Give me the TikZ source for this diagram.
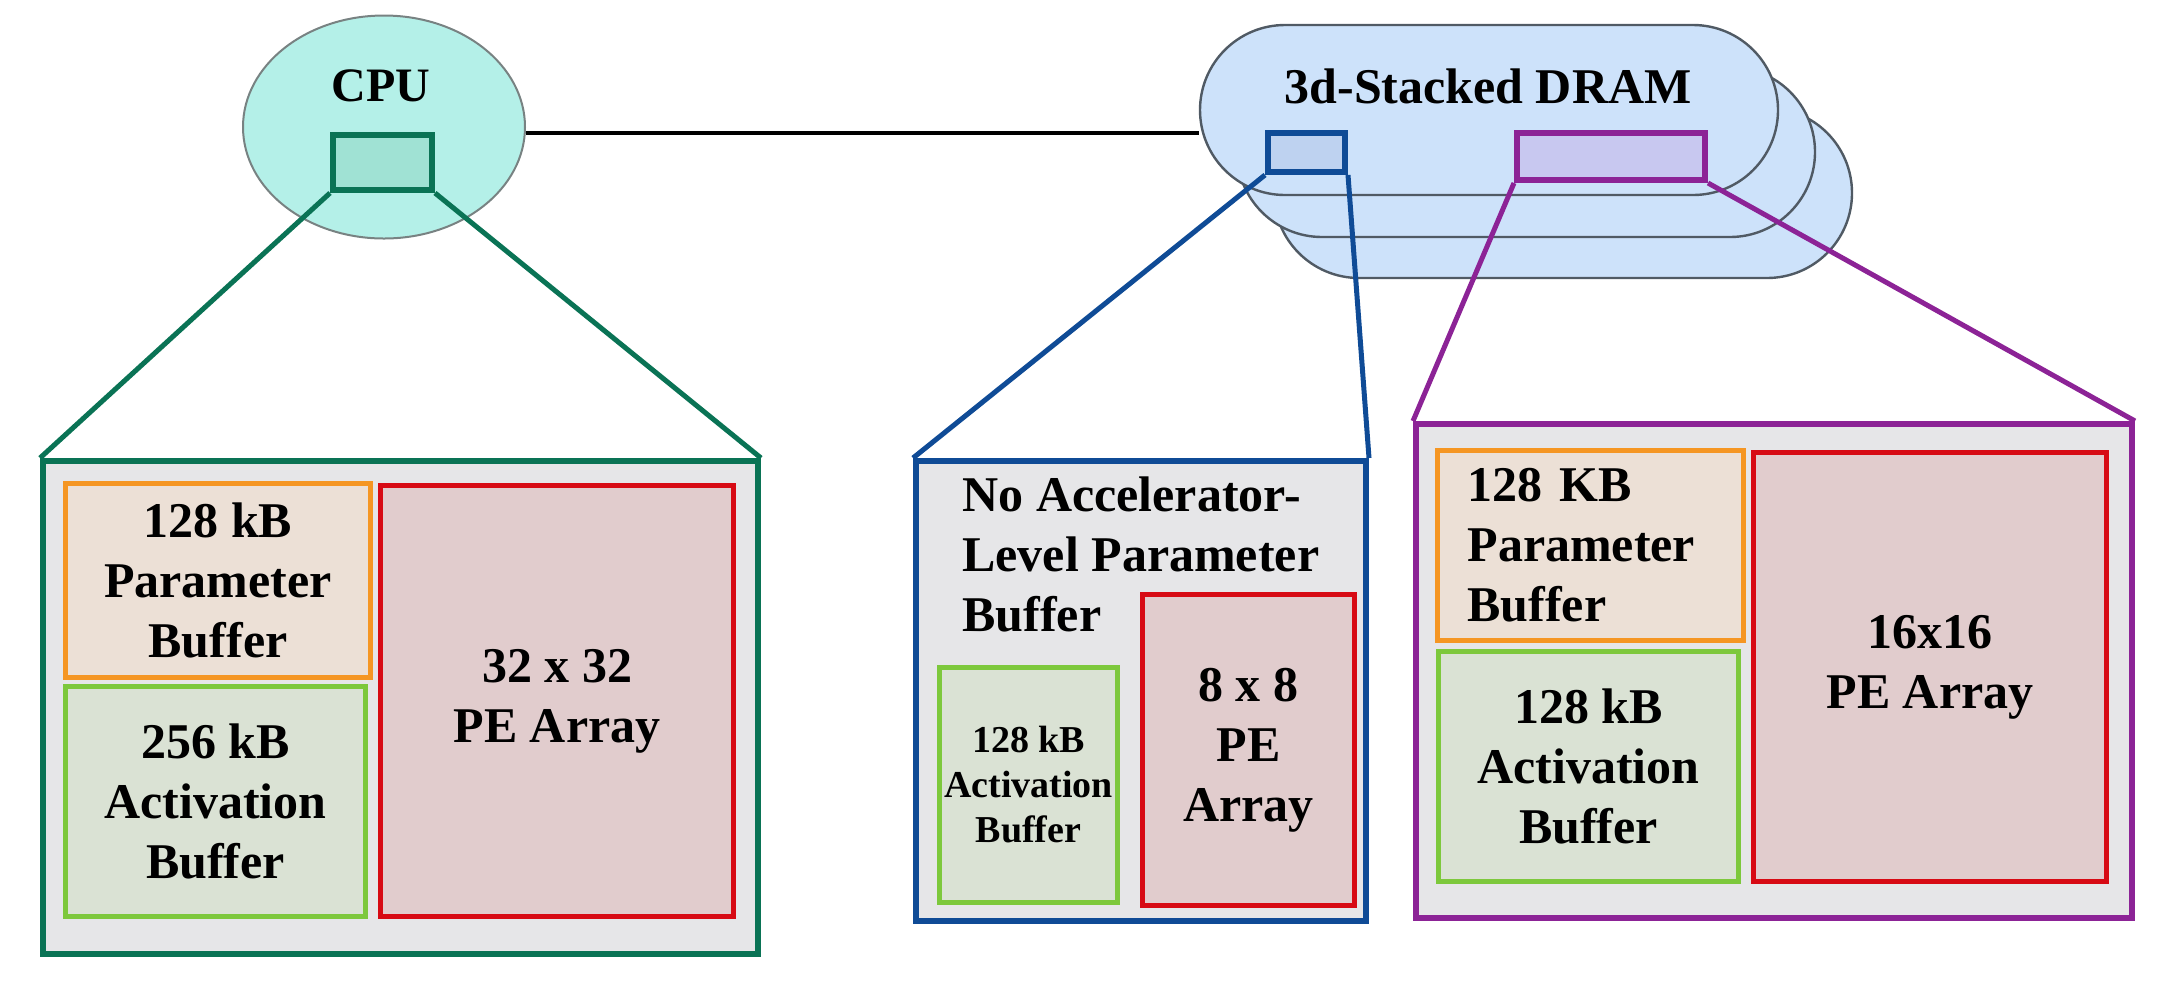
\documentclass[tikz,border=0pt]{standalone}
\usepackage{fontspec}
\setmainfont{Liberation Serif}
\usetikzlibrary{positioning, shapes.geometric, shapes.misc}

\definecolor{cpugreen}{RGB}{10,115,85}
\definecolor{cpufill}{RGB}{180,240,232}
\definecolor{cpuedge}{RGB}{120,130,130}
\definecolor{cpuchipfill}{RGB}{160,226,212}
\definecolor{dramfill}{RGB}{205,226,250}
\definecolor{dramedge}{RGB}{80,90,100}
\definecolor{dramblue}{RGB}{15,75,150}
\definecolor{bluechipfill}{RGB}{190,210,240}
\definecolor{drampurple}{RGB}{140,35,150}
\definecolor{purplechipfill}{RGB}{200,200,240}
\definecolor{parorange}{RGB}{245,150,35}
\definecolor{parfill}{RGB}{236,224,214}
\definecolor{actgreen}{RGB}{125,200,60}
\definecolor{actfill}{RGB}{218,226,212}
\definecolor{pered}{RGB}{215,10,20}
\definecolor{pefill}{RGB}{225,204,205}
\definecolor{boxgray}{RGB}{230,230,232}

\tikzset{
    wh/.style 2 args={minimum width=#1*0.5pt, minimum height=#2*0.5pt},
    bigtext/.style={font=\bfseries\fontsize{25}{30}\selectfont},
    unit/.style={rectangle, line width=3pt, fill=boxgray, inner sep=0pt, anchor=north west},
    parbuf/.style={rectangle, draw=parorange, fill=parfill, line width=2.5pt, inner sep=0pt, anchor=north west, align=center, bigtext},
    actbuf/.style={rectangle, draw=actgreen, fill=actfill, line width=2.5pt, inner sep=0pt, anchor=north west, align=center, bigtext},
    pearray/.style={rectangle, draw=pered, fill=pefill, line width=2.5pt, inner sep=0pt, anchor=north west, align=center, bigtext},
    chip/.style={rectangle, line width=3pt, inner sep=0pt},
    layer/.style={rounded rectangle, draw=dramedge, fill=dramfill, line width=1.2pt, inner sep=0pt, wh={578}{170}},
    link/.style={line width=2.5pt}
}

\begin{document}
\begin{tikzpicture}[x=0.5pt, y=-0.5pt]
    \useasboundingbox (0,0) rectangle (2162,982);

    % CPU
    \node (cpu) [ellipse, draw=cpuedge, fill=cpufill, line width=1pt, inner sep=0pt, wh={282}{223}] at (384,127) {};
    \node (cputxt) [font=\bfseries\fontsize{24}{28}\selectfont] at (381,86) {CPU};
    \node (cpuchip) [chip, draw=cpugreen, fill=cpuchipfill, wh={99}{55}] at (382.5,162.5) {};

    % 3d-stacked DRAM (back to front)
    \node (dram3) [layer] at (1563,193) {};
    \node (dram2) [layer] at (1526,152) {};
    \node (dram1) [layer] at (1489,110) {};
    \node (dramtxt) [bigtext] at (1488,86) {3d-Stacked DRAM};
    \node (dramchipA) [chip, draw=dramblue, fill=bluechipfill, wh={77}{39}] at (1306.5,152.5) {};
    \node (dramchipB) [chip, draw=drampurple, fill=purplechipfill, wh={188}{47}] at (1611,156.5) {};

    % bus
    \draw [line width=2pt] ([yshift=-3pt]cpu.east) -- ([yshift=-3pt]cpu.east -| dram1.west);

    % CPU accelerator
    \node (cpuunit) [unit, draw=cpugreen, wh={715}{493}] at (40,458) {};
    \node (cpupar) [parbuf, wh={305}{194}] at (63,481) {128 kB\\Parameter\\Buffer};
    \node (cpuact) [actbuf, wh={300}{230}] at (63,684) {256 kB\\Activation\\Buffer};
    \node (cpupe) [pearray, wh={353}{431}] at (378,483) {32 x 32\\PE Array};

    % accelerator in the DRAM, no parameter buffer
    \node (nmpunit) [unit, draw=dramblue, wh={450}{460}] at (913,458) {};
    \node (nmpnote) [anchor=north west, align=left, inner sep=0pt, bigtext] at (962,476) {No Accelerator-\\Level Parameter\\Buffer};
    \node (nmpact) [actbuf, wh={178}{235}, font=\bfseries\fontsize{19}{22.5}\selectfont] at (937,665) {128 kB\\Activation\\Buffer};
    \node (nmppe) [pearray, wh={212}{311}] at (1140,592) {8 x 8\\PE\\Array};

    % accelerator in the DRAM, with parameter buffer
    \node (pimunit) [unit, draw=drampurple, wh={716}{494}] at (1413,421) {};
    \node (pimpar) [parbuf, align=left, text width=123pt, wh={306}{190}] at (1435,448) {128 KB\\Parameter\\Buffer};
    \node (pimact) [actbuf, wh={300}{230}] at (1436,649) {128 kB\\Activation\\Buffer};
    \node (pimpe) [pearray, wh={353}{429}] at (1751,450) {16x16\\PE Array};

    % zoom lines
    \draw [link, cpugreen] (cpuchip.south west) -- (cpuunit.north west);
    \draw [link, cpugreen] (cpuchip.south east) -- (cpuunit.north east);
    \draw [link, dramblue] (dramchipA.south west) -- (nmpunit.north west);
    \draw [link, dramblue] (dramchipA.south east) -- (nmpunit.north east);
    \draw [link, drampurple] (dramchipB.south west) -- (pimunit.north west);
    \draw [link, drampurple] (dramchipB.south east) -- (pimunit.north east);
\end{tikzpicture}
\end{document}
